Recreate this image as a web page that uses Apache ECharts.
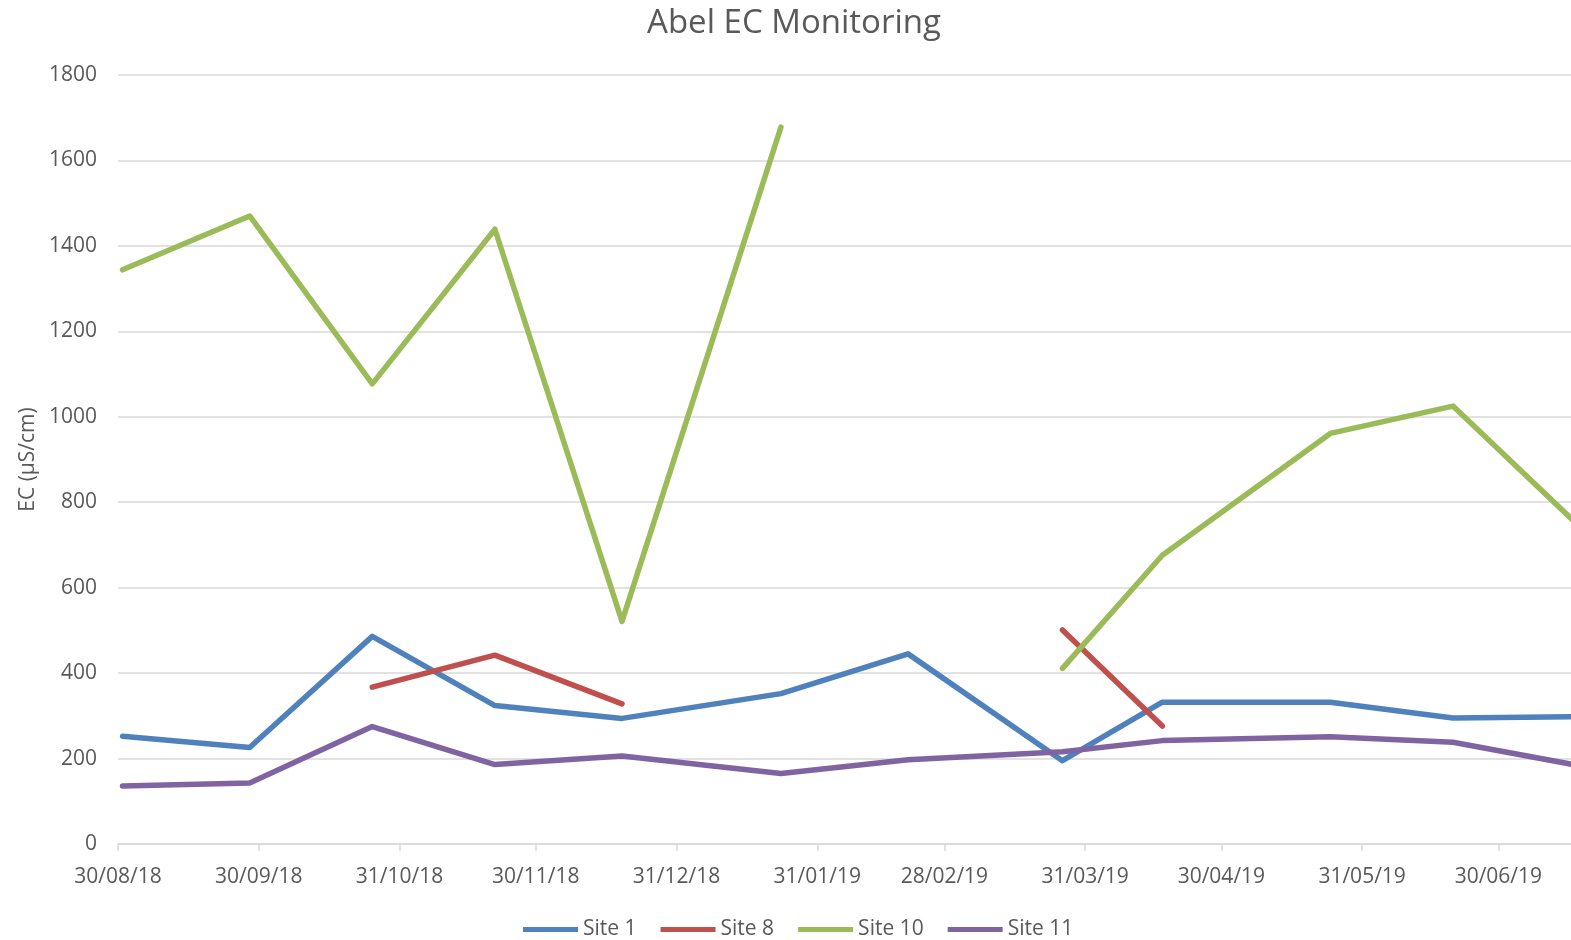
<!DOCTYPE html>
<html>
<head>
<meta charset="utf-8">
<title>Abel EC Monitoring</title>
<script src="https://cdn.jsdelivr.net/npm/echarts@6/dist/echarts.min.js"></script>
<style>
  html, body { margin: 0; padding: 0; background: #ffffff; }
  #chart { width: 1571px; height: 940px; }
</style>
</head>
<body>
<div id="chart"></div>
<script>
// sample dates (dd/mm/yy)
var sampleDates = ['2018-08-31', '2018-09-28', '2018-10-25', '2018-11-21', '2018-12-19', '2019-01-23',
  '2019-02-20', '2019-03-26', '2019-04-17', '2019-05-24', '2019-06-20', '2019-07-18']

// EC values, uS/cm (null = no sample)
var site1 = [252, 226, 486, 324, 294, 352, 445, 195, 332, 332, 295, 298]
var site8 = [null, null, 367, 442, 328, null, null, 501, 276, null, null, null]
var site10 = [1344, 1470, 1077, 1439, 521, 1678, null, 411, 676, 961, 1025, 742]
var site11 = [136, 143, 275, 186, 206, 165, 197, 216, 242, 251, 238, 183]

// x axis tick labels (month ends)
var tickDates = ['2018-08-30', '2018-09-30', '2018-10-31', '2018-11-30', '2018-12-31', '2019-01-31',
  '2019-02-28', '2019-03-31', '2019-04-30', '2019-05-31', '2019-06-30']
var axisStart = '2018-08-30'
var axisEnd = '2019-07-16'

var seriesNames = ['Site 1', 'Site 8', 'Site 10', 'Site 11']
var seriesColors = ['#4F81BD', '#C0504D', '#9BBB59', '#8064A2']

function ts(s) {
  var p = s.split('-')
  return Date.UTC(+p[0], +p[1] - 1, +p[2])
}
function fmt(v) {
  var d = new Date(v)
  var dd = ('0' + d.getUTCDate()).slice(-2)
  var mm = ('0' + (d.getUTCMonth() + 1)).slice(-2)
  var yy = ('' + d.getUTCFullYear()).slice(-2)
  return dd + '/' + mm + '/' + yy
}

var font = 'Open Sans'
var textColor = '#595959'
var gridColor = '#d9d9d9'
var ticks = tickDates.map(ts)

var series = []
var allData = [site1, site8, site10, site11]
for (var i = 0; i < seriesNames.length; i++) {
  series.push({
    name: seriesNames[i],
    type: 'line',
    showSymbol: false,
    symbol: 'none',
    connectNulls: false,
    clip: true,
    lineStyle: { width: 5.5, color: seriesColors[i], cap: 'round', join: 'round' },
    itemStyle: { color: seriesColors[i] },
    data: sampleDates.map(function(d, j) {
      return [ts(d), allData[i][j]]
    })
  })
}

var myChart = echarts.init(document.getElementById('chart'))
var option = {
  backgroundColor: '#ffffff',
  animation: false,
  title: {
    text: 'Abel EC Monitoring',
    left: 789,
    textAlign: 'center',
    top: 2,
    textStyle: { fontFamily: font, fontSize: 33, fontWeight: 'normal', color: textColor }
  },
  legend: {
    top: 914,
    left: 518,
    icon: 'rect',
    itemWidth: 55,
    itemHeight: 5,
    itemGap: 24,
    data: seriesNames,
    textStyle: { fontFamily: font, fontSize: 21, color: textColor }
  },
  grid: { left: 118, right: 0, top: 75, bottom: 96 },
  xAxis: {
    type: 'value',
    min: ts(axisStart),
    max: ts(axisEnd),
    axisLine: { show: true, onZero: false, lineStyle: { color: gridColor, width: 1.5 } },
    axisTick: { show: true, customValues: ticks, length: 7, lineStyle: { color: gridColor, width: 1.5 } },
    axisLabel: {
      customValues: ticks,
      margin: 23,
      formatter: fmt,
      fontFamily: font,
      fontSize: 21,
      color: textColor
    },
    splitLine: { show: false }
  },
  yAxis: {
    type: 'value',
    min: 0,
    max: 1800,
    interval: 200,
    name: 'EC (µS/cm)',
    nameLocation: 'middle',
    nameGap: 78,
    nameTextStyle: { fontFamily: font, fontSize: 21, color: textColor },
    axisLine: { show: false },
    axisTick: { show: false },
    axisLabel: {
      margin: 21,
      formatter: function(v) { return String(v) },
      fontFamily: font,
      fontSize: 21,
      color: textColor
    },
    splitLine: { show: true, lineStyle: { color: gridColor, width: 1.5 } }
  },
  series: series
}
myChart.setOption(option, true)
window.addEventListener('resize', () => {
  myChart.resize()
})
</script>
</body>
</html>
